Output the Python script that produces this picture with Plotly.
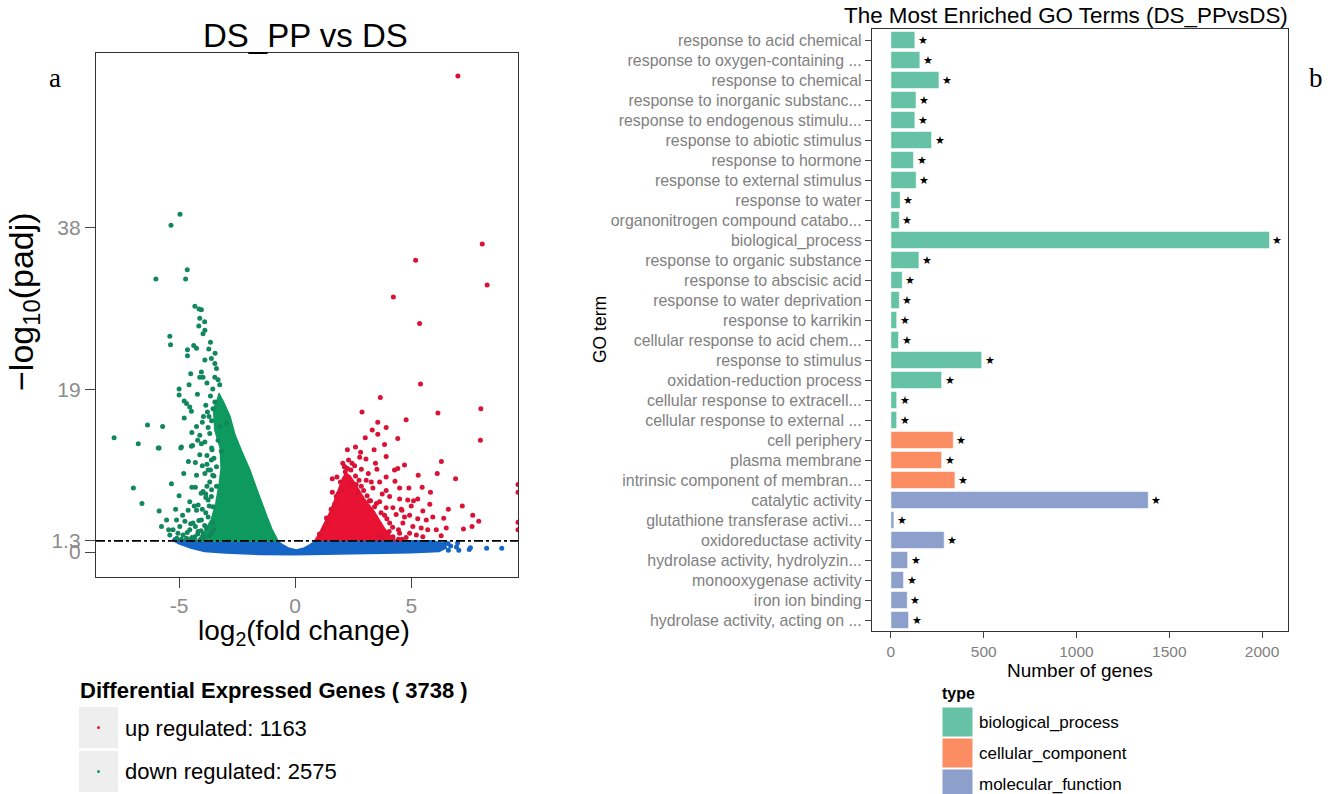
import plotly.graph_objects as go

W, H = 1336, 794
FONT = "Liberation Sans, Arial, sans-serif"

# ---------------- Volcano data (log2FC, -log10 padj) ----------------
padj_threshold = 1.3

# scattered down-regulated genes
down_x = [-4.96, -5.35, -4.65, -6.00, -4.72,
          -4.32, -4.14, -4.04, -4.11, -4.15, -3.89, -3.97, -5.40, -5.37, -4.37, -4.25, -4.64, -4.64,
          -3.72, -3.89, -3.61, -3.46, -3.39, -4.04, -3.97, -4.50, -4.11, -3.46, -3.32, -3.25, -4.57,
          -5.00, -5.00, -4.21, -4.78, -4.68, -4.54, -3.46, -3.54, -4.47, -3.78, -4.78, -3.71, -6.36,
          -5.71, -4.25, -4.11, -3.89, -6.76, -5.86, -4.93, -4.47,
          -5.90, -4.90, -4.42, -4.04, -4.11, -4.25, -3.89, -5.33, -3.68, -3.97, -3.75, -4.54, -4.18,
          -5.86, -4.61, -4.25, -3.61, -5.11, -5.54, -4.75, -4.40, -4.04, -3.75, -5.76, -5.26, -4.97,
          -4.54, -4.18, -3.82, -5.40, -4.83, -4.32, -3.97, -3.61, -4.68, -3.54, -3.54, -3.39, -3.39,
          -3.61, -3.18, -3.32, -3.68, -3.25, -2.96,
          -7.80, -6.97, -6.60, -5.10, -4.90, -4.60, -4.35, -4.10, -3.95, -3.70, -3.50, -3.85, -4.45,
          -3.65, -3.80, -4.00, -3.58, -4.30, -3.50,
          -4.45, -4.20, -4.05, -3.90, -4.30, -4.50, -4.15, -3.85, -4.00, -4.35, -3.70, -3.85, -4.05,
          -3.60, -3.80, -4.30, -3.55, -3.75, -4.00, -3.50, -3.80, -3.60, -4.20, -3.75, -3.60, -3.95,
          -3.85, -3.65, -3.55, -3.80, -3.45, -3.65, -3.90, -4.45, -4.60, -4.80, -5.00, -5.15, -4.85,
          -5.45, -5.05, -4.65]
down_y = [39.6, 38.3, 33.1, 32.0, 32.0,
          28.8, 28.5, 28.4, 27.4, 26.5, 26.0, 25.6, 25.3, 24.3, 24.2, 23.9, 23.7, 23.0,
          23.8, 22.5, 22.7, 22.1, 21.5, 21.1, 20.5, 20.9, 20.5, 20.5, 20.2, 19.6, 19.6,
          19.1, 18.4, 18.5, 17.7, 17.4, 17.0, 17.6, 16.8, 16.5, 16.4, 15.7, 15.9, 14.9,
          14.7, 14.7, 13.7, 12.9, 12.7, 12.2, 12.2, 12.4,
          12.2, 12.3, 12.5, 12.7, 11.4, 9.0, 9.2, 8.0, 8.2, 7.1, 6.1, 5.9, 5.5,
          4.8, 4.9, 4.9, 6.5, 3.75, 3.75, 3.6, 3.4, 3.75, 4.1, 3.0, 2.6, 3.0,
          2.6, 2.4, 2.8, 2.0, 2.0, 1.8, 2.0, 2.2, 1.6, 3.4, 5.3, 7.7, 10.0,
          10.8, 11.8, 13.1, 13.9, 14.7, 15.1,
          13.4, 7.5, 5.7, 1.6, 1.5, 1.45, 1.5, 1.4, 1.6, 1.9, 2.6, 6.8, 7.6,
          9.6, 10.3, 15.2, 12.0, 10.5, 8.9,
          1.7, 2.1, 2.5, 3.1, 3.0, 3.3, 3.7, 4.6, 5.0, 5.4, 5.4, 6.4, 6.9,
          7.3, 7.7, 7.6, 9.0, 9.6, 10.1, 11.0, 11.3, 12.2, 13.1, 14.6, 15.4, 15.9,
          17.2, 18.3, 19.1, 19.8, 23.3, 24.6, 27.0, 14.0, 10.6, 9.2, 6.6, 5.0, 4.3,
          2.6, 2.2, 2.3]

# dense down-regulated region outline
down_core_x = [-3.30, -3.10, -2.82, -2.60, -2.30, -1.96, -1.70, -1.45, -1.22, -1.02, -0.88, -0.75,
               -4.20, -3.85, -3.60, -3.40, -3.25, -3.18, -3.22, -3.45, -3.50, -3.40]
down_core_y = [18.6, 17.6, 15.9, 13.7, 11.7, 9.6, 7.6, 5.7, 4.1, 2.7, 1.9, 1.3,
               1.3, 2.6, 3.8, 5.8, 8.2, 9.8, 12.2, 14.3, 16.4, 17.8]

# scattered up-regulated genes
up_x = [7.01, 8.06, 5.19, 8.27, 4.23, 5.36, 5.40, 3.67, 2.88, 6.15, 8.00,
        3.56, 3.92, 4.78, 3.02, 3.56, 4.42, 7.98, 3.85, 2.82, 2.78, 3.92, 6.30, 2.56, 2.85,
        3.46, 3.52, 4.71, 4.28, 4.42, 6.12, 6.91, 2.13, 3.06, 3.28, 3.64, 3.92, 2.63, 2.85,
        3.35, 3.92, 4.50, 4.90, 5.47, 5.83, 4.07, 4.50, 4.85, 5.10, 5.28, 3.64, 3.42, 3.92,
        4.21, 4.57, 5.00, 5.50, 3.85, 4.35, 4.71, 4.93, 5.28, 5.65, 5.93, 6.40, 7.65, 7.91,
        7.62, 7.25, 6.51, 6.08, 4.07, 4.64, 5.07, 5.43, 5.71, 4.93, 5.22, 4.50, 4.21, 4.78,
        5.50, 6.29, 2.13, 2.16, 2.42, 1.99, 1.77, 2.45, 3.32,
        9.60, 9.60, 9.60, 9.60, 4.45, 3.75, 3.20, 2.70, 1.60, 1.35, 4.05, 3.60,
        1.05, 1.25, 1.40, 1.55, 1.70, 1.85, 1.95, 2.25, 2.40, 2.60, 2.75, 2.95, 3.10, 3.25,
        3.50, 3.70, 3.95, 4.20, 4.45, 4.60, 2.30, 2.05, 1.80, 3.15, 3.05, 2.60, 2.25, 3.75,
        4.30, 4.60, 5.80, 6.60, 5.30, 7.20, 3.40, 1.60]
up_y = [55.8, 36.1, 34.2, 31.3, 29.9, 26.8, 19.7, 18.1, 16.4, 16.3, 16.8,
        15.2, 14.6, 15.5, 13.4, 13.8, 13.3, 13.1, 12.6, 11.7, 11.1, 11.2, 10.6, 10.1, 9.7,
        10.4, 9.7, 10.2, 9.6, 9.8, 9.2, 8.6, 10.0, 8.4, 8.2, 8.2, 8.8, 7.9, 7.7,
        7.5, 7.2, 7.5, 7.5, 7.6, 7.0, 6.5, 6.2, 6.1, 6.0, 6.2, 5.9, 5.3, 5.2,
        5.2, 5.0, 5.4, 4.8, 4.3, 4.4, 4.1, 4.3, 3.9, 3.75, 4.1, 3.95, 4.3, 3.6,
        3.0, 2.7, 2.8, 2.6, 3.4, 3.4, 3.0, 2.8, 2.6, 2.2, 2.0, 2.2, 1.8, 1.7,
        1.8, 1.9, 10.0, 9.4, 8.1, 7.3, 6.5, 10.4, 14.3,
        7.9, 7.0, 3.5, 2.6, 1.5, 1.6, 6.0, 7.0, 8.6, 4.0, 2.4, 2.0,
        2.1, 2.7, 3.5, 5.0, 5.6, 6.8, 8.2, 9.8, 9.6, 8.9, 8.4, 7.2, 6.6, 6.0,
        5.7, 4.6, 3.9, 2.9, 2.6, 1.5, 10.8, 10.4, 8.8, 9.2, 10.9, 12.3, 12.0, 6.8,
        8.3, 4.9, 5.6, 5.0, 9.0, 5.4, 12.0, 7.0]

# dense up-regulated region outline
up_core_x = [0.85, 0.95, 1.10, 1.20, 1.35, 1.50, 1.70, 1.90, 2.05, 2.18, 2.35, 2.55, 2.75, 2.95,
             3.20, 3.40, 3.60, 3.85, 4.10, 4.35]
up_core_y = [1.3, 1.7, 2.4, 3.0, 3.8, 4.6, 6.0, 7.5, 8.6, 9.2, 8.9, 8.1, 7.2, 6.3,
             5.4, 4.7, 3.8, 2.7, 1.9, 1.3]

# not significant genes: dense band outline + sparse tail
ns_band_x = [-5.26, -4.80, -4.30, -0.80, -0.55, -0.30, 0.05, 0.40, 0.65, 0.90, 5.90, 6.20, 6.45,
             6.50, 6.20, 5.00, 3.00, 1.00, 0.00, -1.50, -3.00, -3.90, -4.50, -5.00, -5.30]
ns_band_y = [1.6, 1.4, 1.3, 1.3, 0.85, 0.45, 0.22, 0.45, 0.85, 1.3, 1.3, 1.15, 0.95,
             0.5, 0.1, -0.05, -0.15, -0.25, -0.3, -0.25, -0.1, 0.1, 0.5, 1.0, 1.45]
ns_x = [6.30, 6.45, 6.58, 6.60, 6.70, 6.95, 7.00, 7.05, 7.50, 7.55, 8.25, 8.90]
ns_y = [0.6, 1.0, 1.0, 0.2, 0.7, 0.6, 1.05, 0.2, 0.3, 0.5, 0.43, 0.43]

n_up, n_down = 1163, 2575
volcano_xticks = [-5, 0, 5]
volcano_yticks = [0, 1.3, 19, 38]

# ---------------- GO enrichment data ----------------
go_terms = [
    "response to acid chemical", "response to oxygen-containing ...", "response to chemical",
    "response to inorganic substanc...", "response to endogenous stimulu...",
    "response to abiotic stimulus", "response to hormone", "response to external stimulus",
    "response to water", "organonitrogen compound catabo...", "biological_process",
    "response to organic substance", "response to abscisic acid",
    "response to water deprivation", "response to karrikin", "cellular response to acid chem...",
    "response to stimulus", "oxidation-reduction process", "cellular response to extracell...",
    "cellular response to external ...", "cell periphery", "plasma membrane",
    "intrinsic component of membran...", "catalytic activity", "glutathione transferase activi...",
    "oxidoreductase activity", "hydrolase activity, hydrolyzin...", "monooxygenase activity",
    "iron ion binding", "hydrolase activity, acting on ...",
]
go_counts = [129, 156, 259, 135, 129, 219, 122, 136, 50, 45, 2040, 151, 61, 45, 31, 41,
             489, 273, 31, 31, 336, 273, 345, 1387, 16, 287, 90, 68, 88, 95]
go_types = ["biological_process"] * 20 + ["cellular_component"] * 3 + ["molecular_function"] * 7
type_names = ["biological_process", "cellular_component", "molecular_function"]
type_colors = {"biological_process": "#66C2A5", "cellular_component": "#FC8D62",
               "molecular_function": "#8DA0CB"}
go_xticks = [0, 500, 1000, 1500, 2000]

RED, GREEN, BLUE = "#EA1232", "#0E9A5E", "#1565C6"


def px(p):
    return p / W


def py(p):
    return 1 - p / H


fig = go.Figure()

# ---- volcano traces ----
fig.add_trace(go.Scatter(x=ns_band_x, y=ns_band_y, fill="toself", mode="lines",
                         line=dict(color=BLUE, width=2), fillcolor=BLUE, hoverinfo="skip",
                         xaxis="x", yaxis="y"))
fig.add_trace(go.Scatter(x=ns_x, y=ns_y, mode="markers", marker=dict(size=5, color=BLUE),
                         xaxis="x", yaxis="y"))
fig.add_trace(go.Scatter(x=down_core_x, y=down_core_y, fill="toself", mode="lines",
                         line=dict(color=GREEN, width=2), fillcolor=GREEN, hoverinfo="skip",
                         xaxis="x", yaxis="y"))
fig.add_trace(go.Scatter(x=down_x, y=down_y, mode="markers",
                         marker=dict(size=5, color="#12875C"), xaxis="x", yaxis="y"))
fig.add_trace(go.Scatter(x=up_core_x, y=up_core_y, fill="toself", mode="lines",
                         line=dict(color=RED, width=2), fillcolor=RED, hoverinfo="skip",
                         xaxis="x", yaxis="y"))
fig.add_trace(go.Scatter(x=up_x, y=up_y, mode="markers",
                         marker=dict(size=5, color="#DA1236"), xaxis="x", yaxis="y"))

# ---- GO bar trace ----
fig.add_trace(go.Bar(orientation="h", x=go_counts, y=go_terms, width=0.85,
                     marker=dict(color=[type_colors[t] for t in go_types],
                                 line=dict(color="rgba(255,255,255,0.55)", width=1)),
                     xaxis="x2", yaxis="y2"))

annotations = []
for v, t in zip(go_counts, go_terms):
    annotations.append(dict(x=v, y=t, xref="x2", yref="y2", text="\u2605", showarrow=False,
                            xanchor="left", yanchor="middle", xshift=1, yshift=0,
                            font=dict(size=11, color="black", family="DejaVu Sans")))

# ---- text annotations ----
annotations += [
    dict(x=px(305), y=py(35), xref="paper", yref="paper", text="DS_PP vs DS", showarrow=False,
         font=dict(size=33, color="black", family=FONT), xanchor="center", yanchor="middle"),
    dict(x=px(304), y=py(632), xref="paper", yref="paper", text="log<sub>2</sub>(fold change)",
         showarrow=False, font=dict(size=28, color="black", family=FONT),
         xanchor="center", yanchor="middle"),
    dict(x=px(24), y=py(302), xref="paper", yref="paper", text="\u2212log<sub>10</sub>(padj)",
         showarrow=False, textangle=-90, font=dict(size=34, color="black", family=FONT),
         xanchor="center", yanchor="middle"),
    dict(x=px(55), y=py(78), xref="paper", yref="paper", text="a", showarrow=False,
         font=dict(size=27, color="black", family="Liberation Serif, serif"),
         xanchor="center", yanchor="middle"),
    dict(x=px(1316), y=py(78), xref="paper", yref="paper", text="b", showarrow=False,
         font=dict(size=27, color="black", family="Liberation Serif, serif"),
         xanchor="center", yanchor="middle"),
    dict(x=px(1066), y=py(16), xref="paper", yref="paper",
         text="The Most Enriched GO Terms (DS_PPvsDS)", showarrow=False,
         font=dict(size=22.4, color="black", family=FONT), xanchor="center", yanchor="middle"),
    dict(x=px(1080), y=py(670), xref="paper", yref="paper", text="Number of genes",
         showarrow=False, font=dict(size=19, color="black", family=FONT),
         xanchor="center", yanchor="middle"),
    dict(x=px(600), y=py(330), xref="paper", yref="paper", text="GO term", showarrow=False,
         textangle=-90, font=dict(size=17.5, color="black", family=FONT),
         xanchor="center", yanchor="middle"),
    # volcano legend
    dict(x=px(78), y=py(690), xref="paper", yref="paper",
         text="<b>Differential Expressed Genes ( %d )</b>" % (n_up + n_down), showarrow=False,
         font=dict(size=22, color="black", family=FONT), xanchor="left", yanchor="middle"),
    dict(x=px(123), y=py(728), xref="paper", yref="paper", text="up regulated: %d" % n_up,
         showarrow=False, font=dict(size=22, color="black", family=FONT),
         xanchor="left", yanchor="middle"),
    dict(x=px(123), y=py(771), xref="paper", yref="paper", text="down regulated: %d" % n_down,
         showarrow=False, font=dict(size=22, color="black", family=FONT),
         xanchor="left", yanchor="middle"),
    # GO legend
    dict(x=px(940), y=py(693), xref="paper", yref="paper", text="<b>type</b>", showarrow=False,
         font=dict(size=16, color="black", family=FONT), xanchor="left", yanchor="middle"),
]

shapes = [
    dict(type="line", xref="x domain", yref="y", x0=0, x1=1, y0=padj_threshold,
         y1=padj_threshold, line=dict(color="black", width=1.6, dash="dashdot"), layer="above"),
    # volcano legend keys
    dict(type="rect", xref="paper", yref="paper", x0=px(79), x1=px(118), y0=py(748), y1=py(707),
         fillcolor="#EEEEEE", line=dict(width=0), layer="below"),
    dict(type="rect", xref="paper", yref="paper", x0=px(79), x1=px(118), y0=py(792), y1=py(751),
         fillcolor="#EEEEEE", line=dict(width=0), layer="below"),
    dict(type="circle", xref="paper", yref="paper", x0=px(97), x1=px(100), y0=py(729),
         y1=py(726), fillcolor=RED, line=dict(width=0)),
    dict(type="circle", xref="paper", yref="paper", x0=px(97), x1=px(100), y0=py(773),
         y1=py(770), fillcolor=GREEN, line=dict(width=0)),
]
legend_rows = [(707, 737), (738, 768), (769, 800)]
for name, (top, bot) in zip(type_names, legend_rows):
    shapes.append(dict(type="rect", xref="paper", yref="paper", x0=px(942), x1=px(973),
                       y0=py(bot), y1=py(top), fillcolor=type_colors[name],
                       line=dict(color="white", width=1)))
    annotations.append(dict(x=px(977), y=py((top + bot) / 2), xref="paper", yref="paper",
                            text=name, showarrow=False,
                            font=dict(size=17, color="black", family=FONT),
                            xanchor="left", yanchor="middle"))

axis_common = dict(showline=True, linecolor="#333333", linewidth=1.3, mirror=True,
                   showgrid=False, zeroline=False, ticks="outside", tickcolor="#444444")

fig.update_layout(
    width=W, height=H, margin=dict(l=0, r=0, t=0, b=0),
    paper_bgcolor="white", plot_bgcolor="white", showlegend=False,
    font=dict(family=FONT),
    xaxis=dict(domain=[px(96), px(518)], range=[-8.58, 9.6], tickvals=volcano_xticks,
               ticktext=[str(v) for v in volcano_xticks], ticklen=10, tickwidth=1.2,
               tickfont=dict(size=21, color="#8c8c8c"), anchor="y", **axis_common),
    yaxis=dict(domain=[py(577), py(53)], range=[-2.93, 58.5], tickvals=volcano_yticks,
               ticktext=["0", "1.3", "19", "38"], ticklen=10, tickwidth=1.2,
               tickfont=dict(size=21, color="#8c8c8c"), anchor="x", **axis_common),
    xaxis2=dict(domain=[px(872), px(1288)], range=[-102, 2140], tickvals=go_xticks,
                ticklen=6, tickwidth=1, tickfont=dict(size=15.5, color="#808080"),
                anchor="y2", **axis_common),
    yaxis2=dict(domain=[py(631), py(29)], type="category", categoryorder="array",
                categoryarray=go_terms, range=[len(go_terms) - 0.45, -0.55], ticklen=6,
                tickwidth=1, tickfont=dict(size=15.9, color="#808080"), anchor="x2",
                **axis_common),
    annotations=annotations, shapes=shapes,
)

fig.write_html("out.html")
